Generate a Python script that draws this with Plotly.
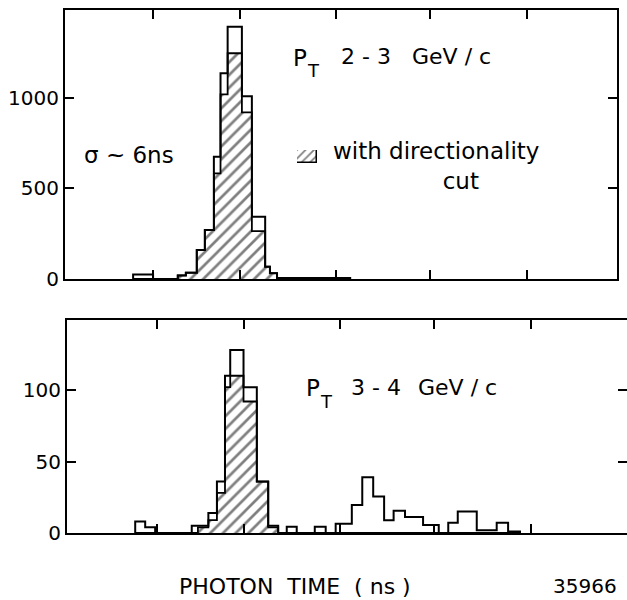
import plotly.graph_objects as go

# ---------------- data (ns, counts) ----------------
# upper panel: P_T 2-3 GeV/c
top_edges = [-22.5, -18.3, -13.1, -11.4, -9.1, -7.4, -5.5, -4.1, -2.6, 0.4, 2.5, 5.3, 6.3, 7.8, 23.2]
top_all = [25, 0, 20, 35, 160, 270, 676, 1136, 1394, 1010, 344, 68, 32, 6]
top_cut = [0, 0, 20, 35, 160, 270, 584, 1020, 1247, 920, 265, 68, 32, 0]

# lower panel: P_T 3-4 GeV/c
bot_edges = [-22.9, -20.8, -18.7, -11.0, -9.7, -7.5, -5.7, -4.0, -2.9, -0.1, 2.7, 5.1, 7.2,
             9.0, 11.1, 14.9, 17.2, 19.3, 22.7, 24.9, 27.2, 29.5, 31.5, 33.9, 37.7, 41.0,
             43.0, 45.0, 49.0, 53.2, 55.6, 58.1]
bot_all = [8, 4, 0, 5, 5, 14, 36, 110, 128, 102, 36, 5, 0, 4.4, 0, 4.4, 0, 6.5, 19.6, 39,
           25.5, 9, 15.6, 11.2, 5.6, 0, 7.2, 15, 2, 7.2, 1]
bot_cut = [0, 0, 0, 0, 4, 9, 28, 102, 110, 92, 36, 4, 0, 0, 0, 0, 0, 0, 0, 0,
           0, 0, 0, 0, 0, 0, 0, 0, 0, 0, 0]

x_ticks = [-18.4, 0, 20.2, 40, 60.4]
top_yticks = [0, 500, 1000]
bot_yticks = [0, 50, 100]

W, H = 627, 600
FONT = "DejaVu Sans"
NB = "\u00a0"


def centers(e):
    return [(a + b) / 2 for a, b in zip(e[:-1], e[1:])]


def widths(e):
    return [b - a for a, b in zip(e[:-1], e[1:])]


def step(e, h):
    return [e[0]] + list(e), [0] + list(h) + [0]


fig = go.Figure()

for edges, allv, cutv, xa, ya in [(top_edges, top_all, top_cut, "x", "y"),
                                  (bot_edges, bot_all, bot_cut, "x2", "y2")]:
    fig.add_trace(go.Bar(x=centers(edges), y=cutv, width=widths(edges), xaxis=xa, yaxis=ya,
                         marker=dict(color="white", line=dict(width=0),
                                     pattern=dict(shape="/", fgcolor="black", bgcolor="white",
                                                  size=9, solidity=0.3)),
                         showlegend=False, hoverinfo="skip"))
    sx, sy = step(edges, cutv)
    fig.add_trace(go.Scatter(x=sx, y=sy, mode="lines", line=dict(color="black", width=1.8, shape="hv"),
                             xaxis=xa, yaxis=ya, showlegend=False, hoverinfo="skip"))
    sx, sy = step(edges, allv)
    fig.add_trace(go.Scatter(x=sx, y=sy, mode="lines", line=dict(color="black", width=2, shape="hv"),
                             xaxis=xa, yaxis=ya, showlegend=False, hoverinfo="skip"))

# hatched key swatch
fig.add_trace(go.Bar(x=[0.5], y=[1], width=[1], xaxis="x3", yaxis="y3",
                     marker=dict(color="white", line=dict(width=1.5, color="black"),
                                 pattern=dict(shape="/", fgcolor="black", bgcolor="white",
                                              size=6, solidity=0.3)),
                     showlegend=False, hoverinfo="skip"))

axis_common = dict(showline=True, linecolor="black", linewidth=2, mirror="ticks",
                   ticks="inside", ticklen=9, tickwidth=1.5, tickcolor="black",
                   showgrid=False, zeroline=False, automargin=False)

fig.update_layout(
    width=W, height=H, margin=dict(l=0, r=0, t=0, b=0, autoexpand=False),
    paper_bgcolor="white", plot_bgcolor="white",
    barmode="overlay", bargap=0, showlegend=False,
    font=dict(family=FONT, color="black", size=20),
    xaxis=dict(domain=[65 / W, 617 / W], range=[-36.84, 79.37], tickvals=x_ticks,
               showticklabels=False, anchor="y", **axis_common),
    yaxis=dict(domain=[1 - 279 / H, 1 - 10 / H], range=[0, 1486], tickvals=top_yticks,
               ticktext=[str(v) for v in top_yticks], anchor="x",
               tickfont=dict(size=20), **axis_common),
    xaxis2=dict(domain=[67 / W, 1.0], range=[-37.26, 80.63], tickvals=x_ticks,
                showticklabels=False, anchor="y2", **axis_common),
    yaxis2=dict(domain=[1 - 533 / H, 1 - 320 / H], range=[0, 149], tickvals=bot_yticks,
                ticktext=[str(v) for v in bot_yticks], anchor="x2",
                tickfont=dict(size=20), **axis_common),
    xaxis3=dict(domain=[297 / W, 317 / W], range=[0, 1], visible=False, anchor="y3"),
    yaxis3=dict(domain=[1 - 163 / H, 1 - 150 / H], range=[0, 1], visible=False, anchor="x3"),
)

key_text = "with directionality<br>" + NB * 15 + "cut"
texts = [
    # (text, left px, centre y px, size)
    ("P", 291, 58, 23),
    ("T", 305, 71, 18),
    (f"2{NB}-{NB}3", 339, 57, 22),
    (f"GeV{NB}/{NB}c", 410, 57, 22),
    (f"σ{NB}~{NB}6ns", 82, 155, 23),
    (key_text, 331, 166, 23),
    ("P", 304, 388, 23),
    ("T", 318, 401, 18),
    (f"3{NB}-{NB}4", 349, 388, 22),
    (f"GeV{NB}/{NB}c", 416, 388, 22),
    (f"PHOTON{NB}{NB}TIME{NB}{NB}({NB}ns{NB})", 177, 586, 22),
    ("35966", 551, 586, 20),
]
for t, px, py, fs in texts:
    fig.add_annotation(text=t, x=px / W, y=1 - py / H, xref="paper", yref="paper",
                       showarrow=False, xanchor="left", yanchor="middle", align="left",
                       font=dict(family=FONT, size=fs, color="black"))

fig.write_html("out.html", config={"displayModeBar": False},
               post_script="document.body.style.margin='0';document.body.style.overflow='hidden';")
